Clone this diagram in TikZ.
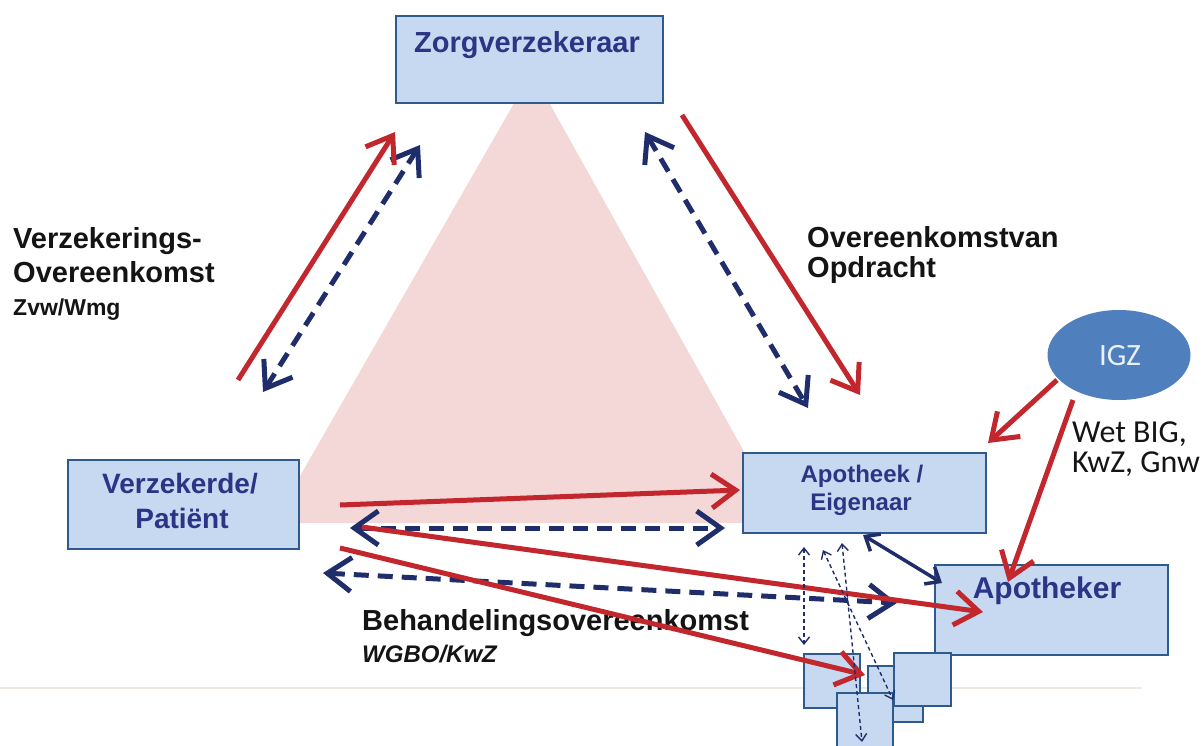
\documentclass[tikz,border=0pt]{standalone}
\usepackage{fontspec}
\setmainfont{Liberation Sans}
\newfontfamily\calib{Carlito}
\usetikzlibrary{arrows.meta,shapes.geometric}
\definecolor{boxfill}{HTML}{C6D9F0}
\definecolor{boxline}{HTML}{2F5B8C}
\definecolor{boxtext}{HTML}{2B3585}
\definecolor{redarr}{HTML}{C1272D}
\definecolor{navy}{HTML}{1F2E6B}
\definecolor{pinkfill}{HTML}{F4D7D7}
\definecolor{igzfill}{HTML}{4F7FBD}
\definecolor{rulegray}{HTML}{EEEAE0}
\definecolor{labtext}{HTML}{141414}
\tikzset{
  box/.style={draw=boxline, fill=boxfill, line width=2pt, inner sep=0pt, anchor=north west},
  txt/.style={inner sep=0pt, anchor=base},
  ltxt/.style={inner sep=0pt, anchor=base west},
  redar/.style={draw=redarr, line width=5pt, -{Straight Barb[length=24pt,width=34pt]}},
  navyd/.style={draw=navy, line width=5pt, dash pattern=on 15pt off 9pt, {Straight Barb[length=24pt,width=34pt]}-{Straight Barb[length=24pt,width=34pt]}},
  navys/.style={draw=navy, line width=3.5pt, {Straight Barb[length=12pt,width=20pt]}-{Straight Barb[length=12pt,width=20pt]}},
  navyt/.style={draw=navy, line width=1.4pt, dash pattern=on 4pt off 3pt, {Straight Barb[length=7pt,width=11pt]}-{Straight Barb[length=7pt,width=11pt]}},
}
\begin{document}
\begin{tikzpicture}[x=1pt,y=-1pt]
\useasboundingbox (0,0) rectangle (1203,745);
\clip (0,0) rectangle (1203,745);
% background triangle
\fill[pinkfill] (532,72) -- (273,523) -- (784,523) -- cycle;
% rule
\draw[rulegray, line width=2pt] (0,688) -- (1142,688);
% boxes
\node[box, minimum width=267pt, minimum height=87pt] (zorg) at (395,15) {};
\node[box, minimum width=231pt, minimum height=89pt] (verz) at (67,459) {};
\node[box, minimum width=243pt, minimum height=80pt] (apoth) at (742,452) {};
\node[box, minimum width=233pt, minimum height=90pt] (apker) at (934,564) {};
\node[box, minimum width=56pt, minimum height=54pt] (s1) at (803,653) {};
\node[box, minimum width=55pt, minimum height=56pt] (s2) at (867,665) {};
\node[box, minimum width=56pt, minimum height=70pt] (s3) at (836,692) {};
\node[box, minimum width=57pt, minimum height=53pt] (s4) at (893,652) {};
\node[ellipse, fill=igzfill, minimum width=143pt, minimum height=90pt, inner sep=0pt] (igz) at (1119,355) {};
% box texts
\node[txt, text=boxtext, font=\fontsize{29}{33}\selectfont\bfseries] (zorgt) at (527,52) {Zorgverzekeraar};
\node[txt, text=boxtext, font=\fontsize{28}{32}\selectfont\bfseries] (verzt1) at (180,493) {Verzekerde/};
\node[txt, text=boxtext, font=\fontsize{28}{32}\selectfont\bfseries] (verzt2) at (182,528) {Patiënt};
\node[txt, text=boxtext, font=\fontsize{24}{28}\selectfont\bfseries] (apotht1) at (862,482) {Apotheek /};
\node[txt, text=boxtext, font=\fontsize{24}{28}\selectfont\bfseries] (apotht2) at (861,510) {Eigenaar};
\node[txt, text=boxtext, font=\fontsize{30}{34}\selectfont\bfseries] (apkert) at (1047,598) {Apotheker};
\node[txt, text=white!88!igzfill, font=\calib\fontsize{31}{35}\selectfont] (igzt) at (1120,365) {IGZ};
% labels
\node[ltxt, text=labtext, font=\fontsize{29}{33}\selectfont\bfseries] (l1) at (13,248) {Verzekerings-};
\node[ltxt, text=labtext, font=\fontsize{29}{33}\selectfont\bfseries] (l2) at (13,282) {Overeenkomst};
\node[ltxt, text=labtext, font=\fontsize{23}{27}\selectfont\bfseries] (l3) at (13,315) {Zvw/Wmg};
\node[ltxt, text=labtext, font=\fontsize{29}{33}\selectfont\bfseries] (l4) at (807,247) {Overeenkomstvan};
\node[ltxt, text=labtext, font=\fontsize{29}{33}\selectfont\bfseries] (l5) at (807,277) {Opdracht};
\node[ltxt, text=labtext, font=\fontsize{29}{33}\selectfont\bfseries] (l6) at (362,630) {Behandelingsovereenkomst};
\node[ltxt, text=labtext, font=\fontsize{24}{28}\selectfont\bfseries\itshape] (l7) at (362,662) {WGBO/KwZ};
\node[ltxt, text=labtext, font=\calib\fontsize{32}{36}\selectfont] (l8) at (1072,442) {Wet BIG,};
\node[ltxt, text=labtext, font=\calib\fontsize{32}{36}\selectfont] (l9) at (1072,472) {KwZ, Gnw};
% arrow end coordinates
\coordinate (r1a) at (238,380); \coordinate (r1b) at (395,132);
\coordinate (b1a) at (263,392); \coordinate (b1b) at (420,145);
\coordinate (r2a) at (682,115); \coordinate (r2b) at (860,395);
\coordinate (b2a) at (645,132); \coordinate (b2b) at (808,408);
\coordinate (r3a) at (340,505); \coordinate (r3b) at (740,490);
\coordinate (b3a) at (350,528); \coordinate (b3b) at (725,528);
\coordinate (r4a) at (362,527); \coordinate (r4b) at (983,612);
\coordinate (r5a) at (340,548); \coordinate (r5b) at (865,675);
\coordinate (b4a) at (323,573); \coordinate (b4b) at (897,603);
\coordinate (r6a) at (1057,380); \coordinate (r6b) at (988,443);
\coordinate (r7a) at (1073,400); \coordinate (r7b) at (1008,582);
\coordinate (n1a) at (863,535); \coordinate (n1b) at (942,583);
\coordinate (t1a) at (804,547); \coordinate (t1b) at (804,645);
\coordinate (t2a) at (842,543); \coordinate (t2b) at (862,742);
\coordinate (t3a) at (823,550); \coordinate (t3b) at (893,700);
% arrows
\draw[navyd] (b1a) -- (b1b);
\draw[redar] (r1a) -- (r1b);
\draw[navyd] (b2a) -- (b2b);
\draw[redar] (r2a) -- (r2b);
\draw[navyd] (b3a) -- (b3b);
\draw[navyd] (b4a) -- (b4b);
\draw[redar] (r3a) -- (r3b);
\draw[redar] (r4a) -- (r4b);
\draw[redar] (r5a) -- (r5b);
\draw[navys] (n1a) -- (n1b);
\draw[navyt] (t1a) -- (t1b);
\draw[navyt] (t2a) -- (t2b);
\draw[navyt] (t3a) -- (t3b);
\draw[redar] (r6a) -- (r6b);
\draw[redar] (r7a) -- (r7b);
\end{tikzpicture}
\end{document}
